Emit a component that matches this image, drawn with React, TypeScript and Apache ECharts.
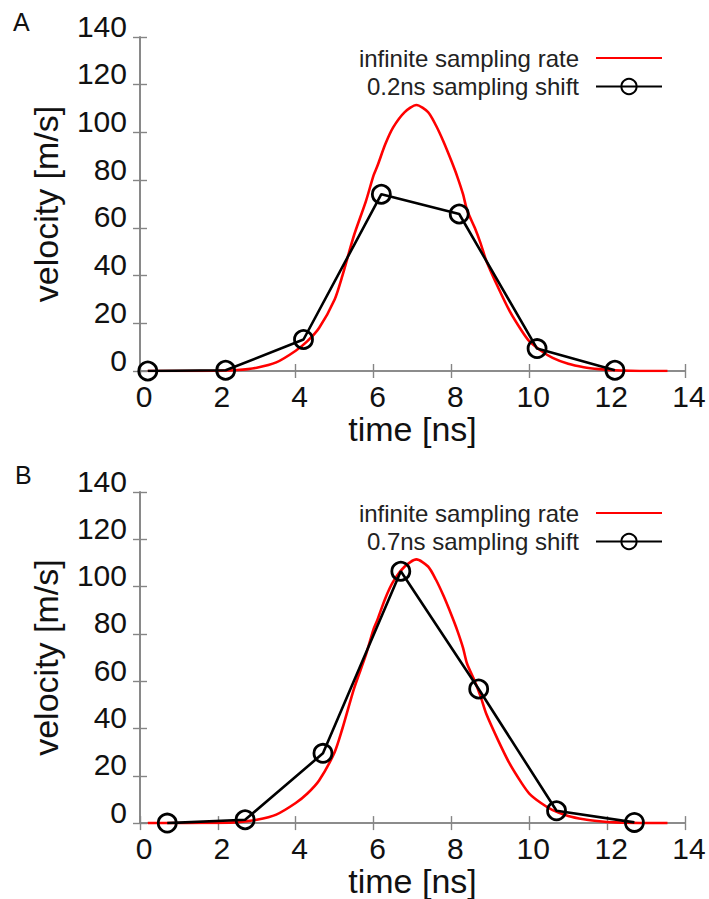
import React, { useEffect, useRef } from "react";
import * as echarts from "echarts";

// Continuous signal ("infinite sampling rate")
const redTime = [0.2, 1.2, 2.0, 2.5, 3.0, 3.5, 4.0, 4.3, 4.6, 5.0, 5.2, 5.5, 5.8, 6.0, 6.1, 6.3, 6.5, 6.8, 7.1, 7.4, 7.6, 7.8, 8.0, 8.15, 8.3, 8.4, 8.6, 8.75, 8.9, 9.2, 9.5, 9.8, 10.0, 10.3, 10.6, 11.0, 11.4, 11.8, 12.2, 12.6, 13.0, 13.55];
const redVel = [0, 0, 0.1, 0.4, 1.4, 3.6, 8.5, 12.5, 18, 30, 40, 57, 71, 82, 86, 95, 102, 108.5, 111.5, 108.5, 103, 96, 88, 81.5, 74, 67.5, 60, 53.5, 46, 35, 25, 17, 12.5, 8.5, 5.5, 3, 1.6, 0.8, 0.3, 0.1, 0, 0];

// Panel A: 0.2 ns sampling shift
const timeA = [0.2, 2.2, 4.2, 6.2, 8.2, 10.2, 12.2];
const velA = [0, 0.3, 13.2, 74.1, 65.8, 9.4, 0.3];

// Panel B: 0.7 ns sampling shift
const timeB = [0.7, 2.7, 4.7, 6.7, 8.7, 10.7, 12.7];
const velB = [0, 1.4, 29.5, 106.5, 56.7, 5.2, 0.3];

const redName = "infinite sampling rate";
const nameA = "0.2ns sampling shift";
const nameB = "0.7ns sampling shift";
const panelLabels = ["A", "B"];

const FONT = "'Liberation Sans', Arial, Helvetica, sans-serif";
const AXIS_COLOR = "#858585";
const TEXT_COLOR = "#111";

const zip = (a: number[], b: number[]) => a.map((v, i) => [v, b[i]]);

function axesFor(gridIndex: number) {
  const baseLine = { show: true, lineStyle: { color: AXIS_COLOR, width: 1.6 } };
  const tick = { show: true, inside: true, length: 7, lineStyle: { color: AXIS_COLOR, width: 1.4 } };
  const x = [
    {
      type: "value", gridIndex, min: 0, max: 14, interval: 2, position: "bottom",
      axisLine: baseLine, axisTick: tick, splitLine: { show: false },
      axisLabel: { fontSize: 30, fontFamily: FONT, color: TEXT_COLOR, margin: 10, padding: [0, 0, 0, 8] },
      name: "time [ns]", nameLocation: "middle", nameGap: 34,
      nameTextStyle: { fontSize: 34, fontFamily: FONT, color: TEXT_COLOR },
    },
    {
      type: "value", gridIndex, min: 0, max: 14, interval: 2, position: "top",
      axisLine: baseLine, axisTick: tick, axisLabel: { show: false }, splitLine: { show: false },
    },
  ];
  const y = [
    {
      type: "value", gridIndex, min: 0, max: 140, interval: 20, position: "left",
      axisLine: baseLine, axisTick: tick, splitLine: { show: false },
      axisLabel: {
        fontSize: 30, fontFamily: FONT, color: TEXT_COLOR, margin: 13,
        verticalAlign: "bottom", lineHeight: 22,
      },
      name: "velocity [m/s]", nameLocation: "middle", nameGap: 77,
      nameTextStyle: { fontSize: 34, fontFamily: FONT, color: TEXT_COLOR },
    },
    {
      type: "value", gridIndex, min: 0, max: 140, interval: 20, position: "right",
      axisLine: baseLine, axisTick: tick, axisLabel: { show: false }, splitLine: { show: false },
    },
  ];
  return { x, y };
}

export default function App() {
  const ref = useRef<HTMLDivElement>(null);

  useEffect(() => {
    if (!ref.current) return;
    const chart = echarts.init(ref.current, null, { renderer: "svg" });
    const a = axesFor(0);
    const b = axesFor(1);

    const redSeries = (xi: number, yi: number) => ({
      name: redName, type: "line", xAxisIndex: xi, yAxisIndex: yi,
      data: zip(redTime, redVel), symbol: "none", showSymbol: false, z: 2,
      smooth: 0.25,
      lineStyle: { color: "#ff0000", width: 2.6 }, itemStyle: { color: "#ff0000" },
    });
    const blackSeries = (name: string, xi: number, yi: number, t: number[], v: number[]) => ({
      name, type: "line", xAxisIndex: xi, yAxisIndex: yi, data: zip(t, v),
      symbol: "circle", symbolSize: 18, showSymbol: true, z: 3,
      lineStyle: { color: "#000", width: 2.6 },
      itemStyle: { color: "rgba(255,255,255,0)", borderColor: "#000", borderWidth: 2.8 },
    });

    const legendBase = {
      orient: "vertical", align: "right", right: 41, itemWidth: 66, itemHeight: 19, itemGap: 4.5,
      selectedMode: false,
      textStyle: { fontSize: 24, fontFamily: FONT, color: "#222", padding: [0, 12, 0, 0] },
    };
    const redLegendItem = {
      name: redName,
      itemStyle: { color: "rgba(0,0,0,0)", borderWidth: 0, opacity: 0 },
    };

    chart.setOption({
      animation: false,
      backgroundColor: "#fff",
      grid: [
        { left: 140, top: 37, width: 545, height: 334 },
        { left: 140, top: 492, width: 545, height: 335 },
      ],
      xAxis: [...a.x, ...b.x],
      yAxis: [...a.y, ...b.y],
      legend: [
        { ...legendBase, top: 41, data: [redLegendItem, nameA] },
        { ...legendBase, top: 496, data: [redLegendItem, nameB] },
      ],
      graphic: [
        { type: "text", left: 13, top: 9, style: { text: panelLabels[0], fontSize: 25, fontFamily: FONT, fill: TEXT_COLOR } },
        { type: "text", left: 15, top: 462, style: { text: panelLabels[1], fontSize: 25, fontFamily: FONT, fill: TEXT_COLOR } },
      ],
      series: [
        redSeries(0, 0),
        blackSeries(nameA, 0, 0, timeA, velA),
        redSeries(2, 2),
        blackSeries(nameB, 2, 2, timeB, velB),
      ],
    });
    return () => chart.dispose();
  }, []);

  return (
    <div
      ref={ref}
      style={{ position: "fixed", left: 0, top: 0, width: 709, height: 899, background: "#fff" }}
    />
  );
}
